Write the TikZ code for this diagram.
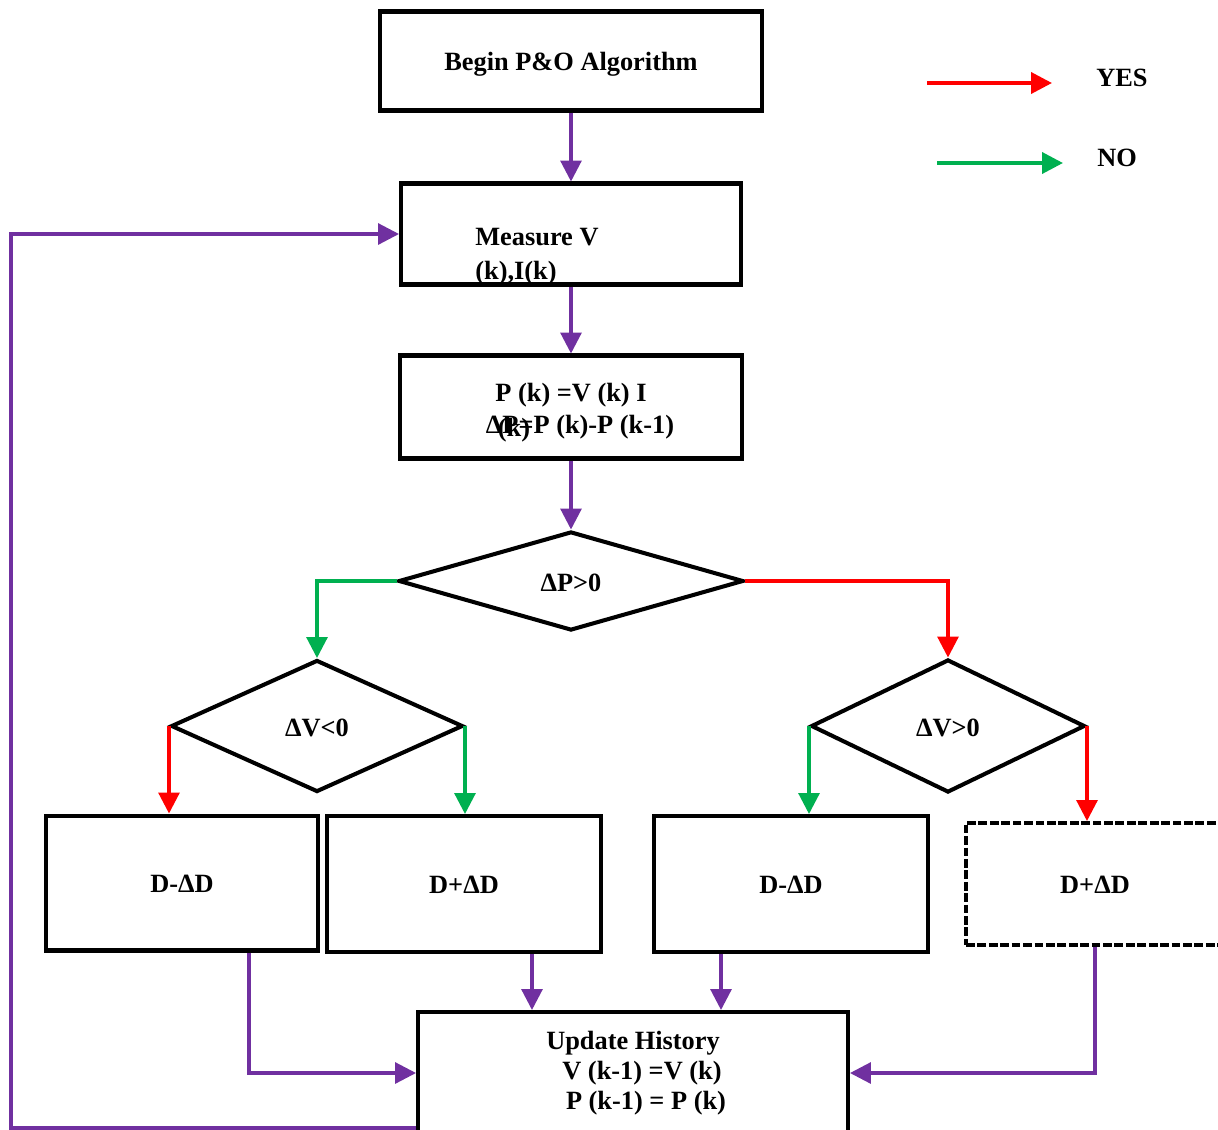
\documentclass[tikz,border=0pt]{standalone}
\usepackage{fontspec}
\setmainfont{Liberation Serif}
\usetikzlibrary{arrows.meta,shapes.geometric}
\definecolor{flowpurple}{HTML}{7030A0}
\definecolor{yesred}{HTML}{FF0000}
\definecolor{nogreen}{HTML}{00B050}
\tikzset{
  stepbox/.style={draw=black, line width=2.3pt, rectangle, inner sep=0pt, text height=12pt, text depth=1.3pt, font=\fontsize{15}{17}\selectfont\bfseries},
  cutbox/.style={stepbox, dash pattern=on 5pt off 1.5pt},
  testbox/.style={draw=black, line width=2.3pt, diamond, inner sep=0pt, text height=12.5pt, text depth=0.8pt, font=\fontsize{15}{17}\selectfont\bfseries},
  txt/.style={inner sep=0pt, font=\fontsize{15}{19.3}\selectfont\bfseries},
  flow/.style={draw=flowpurple, line width=1.8pt, -{Triangle[length=0.42cm,width=0.42cm]}},
  yesflow/.style={flow, draw=yesred},
  noflow/.style={flow, draw=nogreen},
}
\begin{document}
\begin{tikzpicture}[x=0.02cm, y=-0.02cm]
			%%%%% START %%%%%
			\useasboundingbox (0,0) rectangle (1218,1130);
			\clip (0,0) rectangle (1218,1130);
			
			\node[stepbox, minimum width=7.66cm, minimum height=1.98cm] (begin) at (571,61) {Begin P\&O Algorithm};
			
			\node[stepbox, minimum width=6.8cm, minimum height=2.02cm] (measure) at (571,234) {};
			\node[txt, anchor=west, align=left] (measuretxt) at (475,257) {Measure V\\(k),I(k)};
			
			\node[stepbox, minimum width=6.86cm, minimum height=2.06cm] (power) at (571,407) {};
			\node[txt] (powertxt) at (571,395) {P (k) =V (k) I};
			\node[txt] (deltatxt) at (580,427) {ΔP=P (k)-P (k-1)};
			\node[txt] (wraptxt) at (514,430) {(k)};
			
			\node[testbox, minimum width=6.9cm, minimum height=1.98cm] (dp) at (571,581) {ΔP>0};
			\node[testbox, minimum width=5.84cm, minimum height=2.64cm] (dvl) at (317,726) {ΔV<0};
			\node[testbox, minimum width=5.48cm, minimum height=2.66cm] (dvr) at (948,726) {ΔV>0};
			
			\node[stepbox, minimum width=5.46cm, minimum height=2.7cm] (decl) at (182,883) {D-ΔD};
			\node[stepbox, minimum width=5.48cm, minimum height=2.72cm] (incl) at (464,884) {D+ΔD};
			\node[stepbox, minimum width=5.48cm, minimum height=2.72cm] (decr) at (791,884) {D-ΔD};
			\node[cutbox, minimum width=5.16cm, minimum height=2.44cm] (incr) at (1095,884) {D+ΔD};
			
			\node[stepbox, text height={}, text depth={}, minimum width=8.6cm, minimum height=2.44cm, align=center] (update) at (633,1073) {Update History\\\hspace*{0.36cm}V (k-1) =V (k)\\\hspace*{0.52cm}P (k-1) = P (k)};
			
			%%%%% LEGEND %%%%%
			\coordinate (yesa) at (927,83);
			\coordinate (yesb) at (1052,83);
			\node[txt, anchor=west] (yes) at (1096,78) {YES};
			\coordinate (noa) at (937,163);
			\coordinate (nob) at (1063,163);
			\node[txt, anchor=west] (no) at (1097,158) {NO};
			\draw[yesflow, line width=2.2pt] (yesa) -- (yesb);
			\draw[noflow, line width=2.2pt] (noa) -- (nob);
			
			%%%%% FLOW %%%%%
			\draw[flow] (begin) -- (measure);
			\draw[flow] (measure) -- (power);
			\draw[flow] (power) -- (dp);
			
			\draw[noflow] (dp.west) -| (dvl.north);
			\draw[yesflow] (dp.east) -| (dvr.north);
			
			\draw[yesflow] (dvl.west) -- (dvl.west |- decl.north);
			\draw[noflow] (dvl.east) -- (dvl.east |- incl.north);
			\draw[noflow] (dvr.west) -- (dvr.west |- decr.north);
			\draw[yesflow] (dvr.east) -- (dvr.east |- incr.north);
			
			\draw[flow] ([xshift=1.34cm]decl.south) |- (update.west);
			\draw[flow] ([xshift=1.36cm]incl.south) -- ([xshift=1.36cm]incl.south |- update.north);
			\draw[flow] ([xshift=-1.4cm]decr.south) -- ([xshift=-1.4cm]decr.south |- update.north);
			\draw[flow] (incr.south) |- (update.east);
			
			\coordinate (back) at (11,1128);
			\draw[flow] (update.south west |- back) -- (back) |- (measure.west);
			
			%%%%% END %%%%%
\end{tikzpicture}
\end{document}
